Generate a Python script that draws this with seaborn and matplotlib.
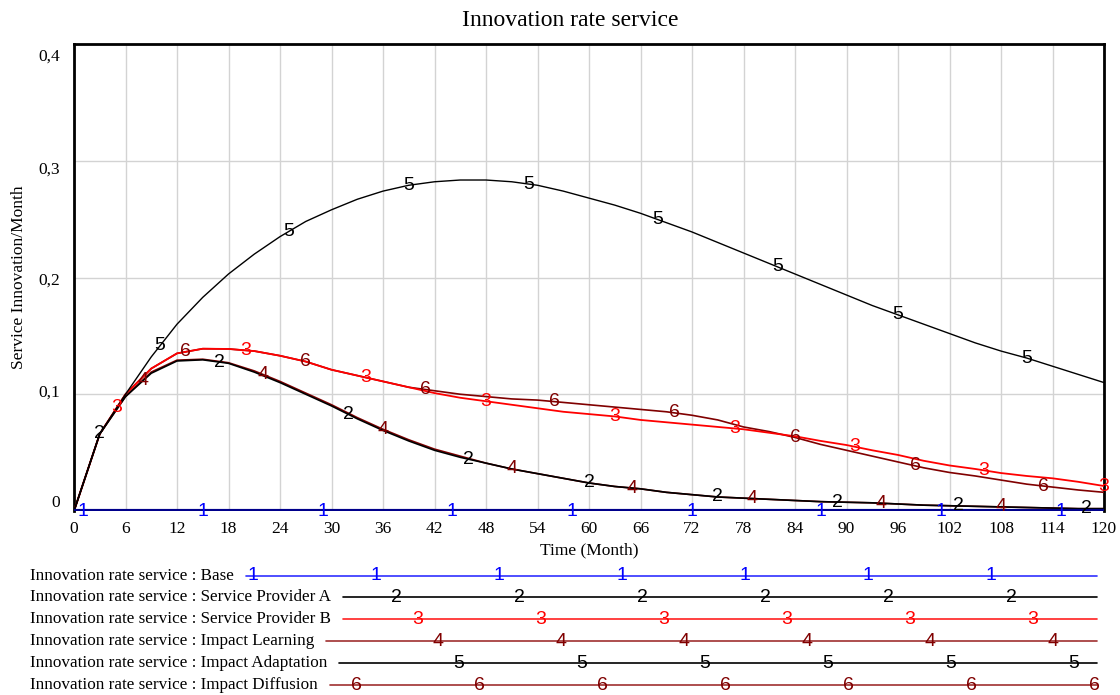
import numpy as np
import pandas as pd
import matplotlib
matplotlib.use("Agg")
import matplotlib.pyplot as plt
import matplotlib.transforms as mtransforms
from matplotlib.lines import Line2D
import seaborn as sns

# ---------------- data ----------------
time = [0, 3, 6, 9, 12, 15, 18, 21, 24, 27, 30, 33, 36, 39, 42, 45, 48, 51, 54, 57,
        60, 63, 66, 69, 72, 75, 78, 81, 84, 87, 90, 93, 96, 99, 102, 105, 108, 111,
        114, 117, 120]

base = [0.0] * len(time)

provider_a = [0, 0.066, 0.098, 0.118, 0.1285, 0.1295, 0.1265, 0.119, 0.110, 0.100, 0.090,
              0.079, 0.069, 0.060, 0.052, 0.046, 0.041, 0.036, 0.032, 0.028, 0.024,
              0.021, 0.019, 0.016, 0.014, 0.012, 0.011, 0.010, 0.009, 0.008, 0.0075,
              0.007, 0.006, 0.005, 0.0045, 0.004, 0.0035, 0.003, 0.0025, 0.002, 0.002]

provider_b = [0, 0.066, 0.100, 0.122, 0.135, 0.139, 0.1388, 0.137, 0.133, 0.128, 0.121,
              0.116, 0.111, 0.106, 0.101, 0.097, 0.094, 0.091, 0.088, 0.085, 0.083,
              0.081, 0.078, 0.076, 0.074, 0.072, 0.070, 0.067, 0.064, 0.060, 0.0565,
              0.052, 0.048, 0.043, 0.039, 0.036, 0.0325, 0.030, 0.028, 0.025, 0.0214]

impact_learning = [0, 0.066, 0.098, 0.119, 0.1292, 0.1300, 0.127, 0.120, 0.111, 0.101,
                   0.091, 0.080, 0.070, 0.061, 0.053, 0.047, 0.041, 0.036, 0.032, 0.028,
                   0.024, 0.021, 0.019, 0.016, 0.014, 0.012, 0.011, 0.010, 0.009, 0.008,
                   0.0075, 0.007, 0.006, 0.005, 0.0045, 0.004, 0.0035, 0.003, 0.0025,
                   0.002, 0.002]

impact_adaptation = [0, 0.066, 0.100, 0.132, 0.160, 0.183, 0.203, 0.220, 0.235, 0.248,
                     0.258, 0.267, 0.274, 0.279, 0.282, 0.2835, 0.2835, 0.282, 0.279,
                     0.274, 0.268, 0.262, 0.255, 0.247, 0.239, 0.230, 0.221, 0.212,
                     0.203, 0.194, 0.185, 0.176, 0.168, 0.160, 0.152, 0.144, 0.137,
                     0.131, 0.124, 0.117, 0.110]

impact_diffusion = [0, 0.066, 0.100, 0.122, 0.135, 0.139, 0.1388, 0.137, 0.133, 0.128,
                    0.121, 0.116, 0.111, 0.106, 0.103, 0.100, 0.098, 0.096, 0.095,
                    0.093, 0.091, 0.089, 0.087, 0.085, 0.082, 0.078, 0.072, 0.068,
                    0.063, 0.057, 0.052, 0.047, 0.042, 0.037, 0.033, 0.030, 0.0265,
                    0.023, 0.0205, 0.018, 0.016]

series_names = ["Base", "Service Provider A", "Service Provider B",
                "Impact Learning", "Impact Adaptation", "Impact Diffusion"]
series_values = [base, provider_a, provider_b, impact_learning,
                 impact_adaptation, impact_diffusion]
series_ids = ["1", "2", "3", "4", "5", "6"]

# label times along each curve
label_times = [
    [1, 15, 29, 44, 58, 72, 87, 101, 115],
    [3, 17, 32, 46, 60, 75, 89, 103, 118],
    [5, 20, 34, 48, 63, 77, 91, 106, 120],
    [8, 22, 36, 51, 65, 79, 94, 108],
    [10, 25, 39, 53, 68, 82, 96, 111],
    [13, 27, 41, 56, 70, 84, 98, 113],
]

x_ticks = list(range(0, 121, 6))
y_ticks = [0, 0.1, 0.2, 0.3, 0.4]
y_tick_labels = ["0", "0,1", "0,2", "0,3", "0,4"]

# ---------------- style ----------------
line_colors = ["#00008B", "#000000", "#FF0000", "#800000", "#000000", "#800000"]
text_colors = ["#0000FF", "#000000", "#FF0000", "#800000", "#000000", "#800000"]
legend_colors = ["#3030FF", "#000000", "#FF2020", "#A03030", "#000000", "#A03030"]
line_widths = [3.0, 1.2, 1.3, 1.2, 1.0, 1.2]
DIGIT_FONT = ["Liberation Sans", "DejaVu Sans"]
DIGIT_SIZE = 14

sns.set_style("white")
plt.rcParams["font.family"] = ["Liberation Serif", "DejaVu Serif"]
plt.rcParams["text.color"] = "black"
plt.rcParams["axes.labelcolor"] = "black"
plt.rcParams["xtick.color"] = "black"
plt.rcParams["ytick.color"] = "black"

W, H = 1120, 695
fig = plt.figure(figsize=(W / 100, H / 100), dpi=100)
ax = fig.add_axes([74 / W, 1 - 511 / H, (1104 - 74) / W, (511 - 44) / H])

df = pd.DataFrame({"time": time})
for name, vals in zip(series_names, series_values):
    df[name] = vals
long_df = df.melt(id_vars="time", var_name="series", value_name="value")

draw_order = [5, 2, 3, 1, 4, 0]
for z, i in enumerate(draw_order):
    sub = long_df[long_df["series"] == series_names[i]]
    sns.lineplot(data=sub, x="time", y="value", ax=ax, color=line_colors[i],
                 linewidth=line_widths[i], legend=False, zorder=3 + z * 0.1)

for i in range(6):
    ys = np.interp(label_times[i], time, series_values[i])
    for t, yv in zip(label_times[i], ys):
        ax.text(t, yv, series_ids[i], color=text_colors[i], ha="center", va="center",
                fontsize=DIGIT_SIZE, family=DIGIT_FONT, zorder=6)

ax.set_xlim(0, 120)
ax.set_ylim(0, 0.4)
ax.set_xticks(x_ticks)
ax.set_yticks(y_ticks)
ax.set_yticklabels(y_tick_labels)
ax.grid(True, color="#D3D3D3", linewidth=1.0)
ax.set_axisbelow(True)
ax.tick_params(axis="both", length=0, labelsize=12.5, labelcolor="black")
ax.tick_params(axis="x", pad=7)
ax.tick_params(axis="y", pad=10)

# vertical offsets of y tick labels (Vensim spaces them slightly unevenly)
offsets_px = [10, 4, -1, -7, -11]
for lbl, off in zip(ax.get_yticklabels(), offsets_px):
    lbl.set_transform(lbl.get_transform() +
                      mtransforms.ScaledTranslation(0, off / 100, fig.dpi_scale_trans))

for s in ["left", "top", "right"]:
    ax.spines[s].set_color("black")
    ax.spines[s].set_linewidth(2)
ax.spines["bottom"].set_visible(False)

ax.set_xlabel("Time (Month)", fontsize=12.5, labelpad=4, color="black")
ax.set_ylabel("Service Innovation/Month", fontsize=12.5, labelpad=8, color="black")
fig.text(570 / W, 1 - 21 / H, "Innovation rate service", fontsize=17,
         ha="center", va="center", color="black")

# ---------------- bottom legend ----------------
row_y = [576, 597, 619, 641, 663, 685]
fig.canvas.draw()
renderer = fig.canvas.get_renderer()
for i in range(6):
    ypix = row_y[i]
    t = fig.text(30 / W, 1 - ypix / H, "Innovation rate service : " + series_names[i],
                 fontsize=12.3, ha="left", va="center", color="black")
    bb = t.get_window_extent(renderer=renderer)
    x_start = bb.x1 + 12
    x_end = 1097
    fig.add_artist(Line2D([x_start / W, x_end / W], [1 - ypix / H, 1 - ypix / H],
                          transform=fig.transFigure, color=legend_colors[i],
                          linewidth=1.2))
    phase = 130 + 20.6 * i
    k = 0
    while True:
        xn = phase + 123 * k
        k += 1
        if xn > x_end + 1:
            break
        if xn < x_start + 5:
            continue
        fig.text(xn / W, 1 - ypix / H, series_ids[i], color=text_colors[i],
                 ha="center", va="center", fontsize=DIGIT_SIZE, family=DIGIT_FONT)

fig.savefig("out.png", dpi=100)
